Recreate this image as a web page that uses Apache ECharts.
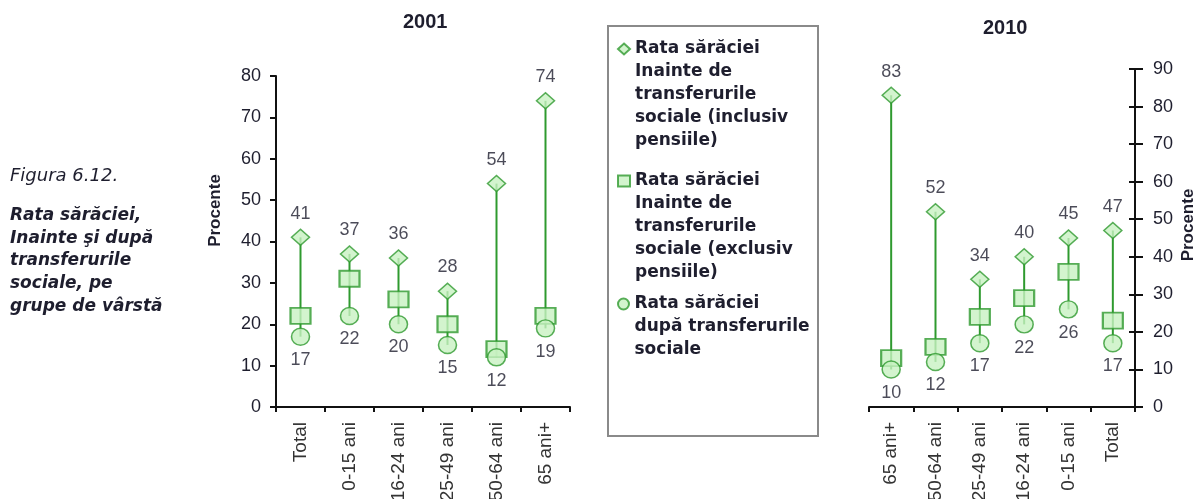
<!DOCTYPE html>
<html>
<head>
<meta charset="utf-8">
<style>
  html, body { margin: 0; padding: 0; background: #fff; }
  #chart { width: 1198px; height: 499px; }
</style>
<script src="https://cdn.jsdelivr.net/npm/echarts@6/dist/echarts.min.js"></script>
</head>
<body>
<div id="chart"></div>
<script>
// 2001 panel
var cats2001 = ['Total', '0-15 ani', '16-24 ani', '25-49 ani', '50-64 ani', '65 ani+'];
var incl2001 = [41, 37, 36, 28, 54, 74];
var excl2001 = [22, 31, 26, 20, 14, 22];
var after2001 = [17, 22, 20, 15, 12, 19];
// 2010 panel (order reversed in the source)
var cats2010 = ['65 ani+', '50-64 ani', '25-49 ani', '16-24 ani', '0-15 ani', 'Total'];
var incl2010 = [83, 52, 34, 40, 45, 47];
var excl2010 = [13, 16, 24, 29, 36, 23];
var after2010 = [10, 12, 17, 22, 26, 17];

var NAME_INCL = 'Rata sărăciei Inainte de transferurile sociale (inclusiv pensiile)';
var NAME_EXCL = 'Rata sărăciei Inainte de transferurile sociale (exclusiv pensiile)';
var NAME_AFTER = 'Rata sărăciei după transferurile sociale';
var legendLines = {};
legendLines[NAME_INCL] = ['Rata sărăciei', 'Inainte de', 'transferurile', 'sociale (inclusiv', 'pensiile)'];
legendLines[NAME_EXCL] = ['Rata sărăciei', 'Inainte de', 'transferurile', 'sociale (exclusiv', 'pensiile)'];
legendLines[NAME_AFTER] = ['Rata sărăciei', 'după transferurile', 'sociale'];

var GREEN = '#2f9a2f';
var FILL = '#c8f1c2';
var TXT = '#1e1e2e';
var LH = 23;

var mychart = echarts.init(document.getElementById('chart'));

function stemItem(params, api) {
    var x = api.value(0);
    var top = api.coord([x, api.value(1)]);
    var bot = api.coord([x, api.value(2)]);
    return {
        type: 'line',
        shape: { x1: top[0], y1: top[1], x2: bot[0], y2: bot[1] },
        style: { stroke: GREEN, lineWidth: 2 }
    };
}

function panelSeries(idx, cats, incl, excl, after) {
    var labelStyle = { color: TXT, fontSize: 18, fontFamily: 'Liberation Sans' };
    return [
        {
            type: 'custom',
            name: 'stem' + idx,
            xAxisIndex: idx, yAxisIndex: idx,
            renderItem: stemItem,
            encode: { x: 0, y: [1, 2] },
            data: cats.map(function (c, i) { return [i, incl[i], after[i]]; }),
            z: 1
        },
        {
            type: 'scatter', name: NAME_INCL,
            xAxisIndex: idx, yAxisIndex: idx,
            symbol: 'diamond', symbolSize: [18, 16],
            itemStyle: { color: FILL, borderColor: GREEN, borderWidth: 1.5 },
            label: Object.assign({ show: true, position: 'top', distance: 6 }, labelStyle),
            data: incl, z: 2
        },
        {
            type: 'scatter', name: NAME_EXCL,
            xAxisIndex: idx, yAxisIndex: idx,
            symbol: 'rect', symbolSize: [20, 16],
            itemStyle: { color: FILL, borderColor: GREEN, borderWidth: 2 },
            data: excl, z: 3
        },
        {
            type: 'scatter', name: NAME_AFTER,
            xAxisIndex: idx, yAxisIndex: idx,
            symbol: 'circle', symbolSize: [18, 17],
            itemStyle: { color: FILL, borderColor: GREEN, borderWidth: 1.5 },
            label: Object.assign({ show: true, position: 'bottom', distance: 5 }, labelStyle),
            data: after, z: 4
        }
    ];
}

var blackLine = { show: true, lineStyle: { color: '#111', width: 2 } };
var tickLabel = { color: TXT, fontSize: 18, fontFamily: 'Liberation Sans' };

function xAxisFor(idx, cats) {
    return {
        type: 'category', gridIndex: idx, data: cats, boundaryGap: true,
        axisLine: blackLine,
        axisTick: { show: true, length: 5, lineStyle: { color: '#111', width: 2 } },
        axisLabel: { rotate: 90, margin: 15, color: '#333', fontSize: 19, fontFamily: 'Liberation Sans', interval: 0 },
        splitLine: { show: false }
    };
}

// one legend per entry: blank lines above the text keep the icon level with the first line
function legendFor(name, firstLineY) {
    var n = legendLines[name].length;
    return {
        orient: 'vertical', left: 617, top: firstLineY - (n - 0.5) * LH, padding: 0,
        itemWidth: 12, itemHeight: 11,
        data: [name],
        formatter: function (nm) {
            var lines = legendLines[nm];
            return new Array(lines.length).join('\n') + lines.join('\n');
        },
        textStyle: { color: TXT, fontSize: 17, fontWeight: 'bold', fontFamily: 'DejaVu Sans', lineHeight: LH }
    };
}

var option = {
    animation: false,
    title: [
        { text: '2001', left: 398, top: 7, textStyle: { fontSize: 20, fontWeight: 'bold', color: TXT, fontFamily: 'Liberation Sans' } },
        { text: '2010', left: 978, top: 13, textStyle: { fontSize: 20, fontWeight: 'bold', color: TXT, fontFamily: 'Liberation Sans' } }
    ],
    legend: [
        legendFor(NAME_INCL, 49),
        legendFor(NAME_EXCL, 181),
        legendFor(NAME_AFTER, 304)
    ],
    graphic: [
        { type: 'rect', left: 607, top: 25, shape: { width: 210, height: 410 }, style: { fill: '#fff', stroke: '#8a8a8a', lineWidth: 2 }, z: -10, silent: true },
        { type: 'text', left: 10, top: 167, style: { text: 'Figura 6.12.', fill: TXT, font: 'italic 18px "DejaVu Sans"' } },
        { type: 'text', left: 10, top: 204, style: { text: 'Rata sărăciei,\nInainte şi după\ntransferurile\nsociale, pe\ngrupe de vârstă', fill: TXT, font: 'italic bold 17px "DejaVu Sans"', lineHeight: 22.75 } }
    ],
    grid: [
        { left: 276, top: 76, width: 294, height: 331, outerBoundsMode: 'none' },
        { left: 869, top: 69, width: 266, height: 338, outerBoundsMode: 'none' }
    ],
    xAxis: [xAxisFor(0, cats2001), xAxisFor(1, cats2010)],
    yAxis: [
        {
            type: 'value', gridIndex: 0, min: 0, max: 80, interval: 10,
            name: 'Procente', nameLocation: 'middle', nameGap: 52, nameRotate: 90,
            nameTextStyle: { color: TXT, fontSize: 17, fontWeight: 'bold', fontFamily: 'Liberation Sans', padding: [0, 0, 0, 62] },
            axisLine: blackLine,
            axisTick: { show: true, length: 6, lineStyle: { color: '#111', width: 2 } },
            axisLabel: Object.assign({ margin: 15 }, tickLabel),
            splitLine: { show: false }
        },
        {
            type: 'value', gridIndex: 1, position: 'right', min: 0, max: 90, interval: 10,
            name: 'Procente', nameLocation: 'middle', nameGap: 45, nameRotate: 90,
            nameTextStyle: { color: TXT, fontSize: 17, fontWeight: 'bold', fontFamily: 'Liberation Sans', padding: [0, 0, 0, 26] },
            axisLine: blackLine,
            axisTick: { show: true, length: 8, lineStyle: { color: '#111', width: 2 } },
            axisLabel: Object.assign({ margin: 18 }, tickLabel),
            splitLine: { show: false }
        },
        {
            // inner half of the crossing ticks on the 2010 axis
            type: 'value', gridIndex: 1, position: 'right', min: 0, max: 90, interval: 10,
            axisLine: { show: false },
            axisTick: { show: true, inside: true, length: 6, lineStyle: { color: '#111', width: 2 } },
            axisLabel: { show: false },
            splitLine: { show: false }
        }
    ],
    series: panelSeries(0, cats2001, incl2001, excl2001, after2001)
        .concat(panelSeries(1, cats2010, incl2010, excl2010, after2010))
};

mychart.setOption(option);
window.addEventListener('resize', function () {
    mychart.resize();
});
</script>
</body>
</html>
